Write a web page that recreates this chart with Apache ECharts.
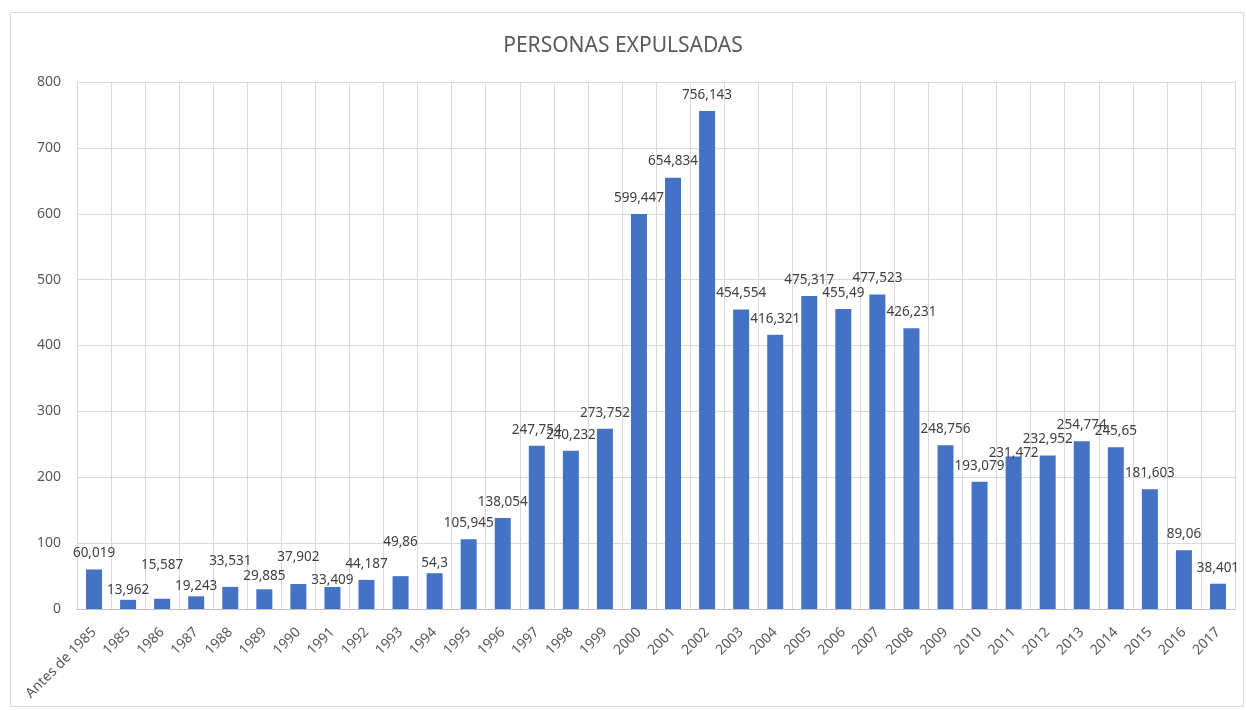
<!DOCTYPE html>
<html><head><meta charset="utf-8">
<script src="https://cdn.jsdelivr.net/npm/echarts@6/dist/echarts.min.js"></script>
<style>html,body{margin:0;padding:0;background:#fff}#c{width:1246px;height:710px}</style>
</head><body><div id="c"></div>
<script>
const categories = ["Antes de 1985","1985","1986","1987","1988","1989","1990","1991","1992","1993","1994","1995","1996","1997","1998","1999","2000","2001","2002","2003","2004","2005","2006","2007","2008","2009","2010","2011","2012","2013","2014","2015","2016","2017"];
const values = [60.019,13.962,15.587,19.243,33.531,29.885,37.902,33.409,44.187,49.86,54.3,105.945,138.054,247.754,240.232,273.752,599.447,654.834,756.143,454.554,416.321,475.317,455.49,477.523,426.231,248.756,193.079,231.472,232.952,254.774,245.65,181.603,89.06,38.401];
const yTicks = [0,100,200,300,400,500,600,700,800];
// vertical label nudges (style only), as in the reference's label layout
const labelNudge = [0,6,-18,6,-10,3,-11,9,0,-18,6,0,0,0,0,0,0,0,0,0,0,0,0,0,0,0,0,13,0,0,0,0,0,0];

const chart = echarts.init(document.getElementById('c'), null, {renderer:'canvas'});
const font = "'Noto Sans', sans-serif";
chart.setOption({
  animation:false,
  backgroundColor:'#fff',
  title:{text:'PERSONAS EXPULSADAS', left:'center', top:31,
    textStyle:{fontFamily:font, fontSize:21, fontWeight:'normal', color:'#595959'}},
  graphic:[{type:'rect', shape:{x:10.5,y:12.5,width:1233,height:694}, style:{fill:null, stroke:'#d9d9d9', lineWidth:1}, silent:true}],
  grid:{left:77, right:11, top:82, bottom:101},
  xAxis:{type:'category', data:categories,
    axisLine:{show:true, lineStyle:{color:'#bfbfbf'}},
    axisTick:{show:false},
    splitLine:{show:true, interval:0, lineStyle:{color:'#d9d9d9'}},
    axisLabel:{interval:0, rotate:45, fontFamily:font, fontSize:14, color:'#595959', margin:21}},
  yAxis:{type:'value', min:yTicks[0], max:yTicks[yTicks.length-1], interval:100,
    axisLine:{show:true, lineStyle:{color:'#d9d9d9'}},
    axisTick:{show:false},
    splitLine:{show:true, lineStyle:{color:'#d9d9d9'}},
    axisLabel:{fontFamily:font, fontSize:14, color:'#595959', margin:16}},
  series:[{type:'bar', barWidth:16,
    itemStyle:{color:'#4472C4'},
    data: values.map((v,i)=>({value:v, label:{offset:[0,labelNudge[i]]}})),
    label:{show:true, position:'top', distance:9, fontFamily:font, fontSize:13.5, color:'#404040',
      formatter:p=>String(p.value).replace('.',',')}}]
});
</script></body></html>
